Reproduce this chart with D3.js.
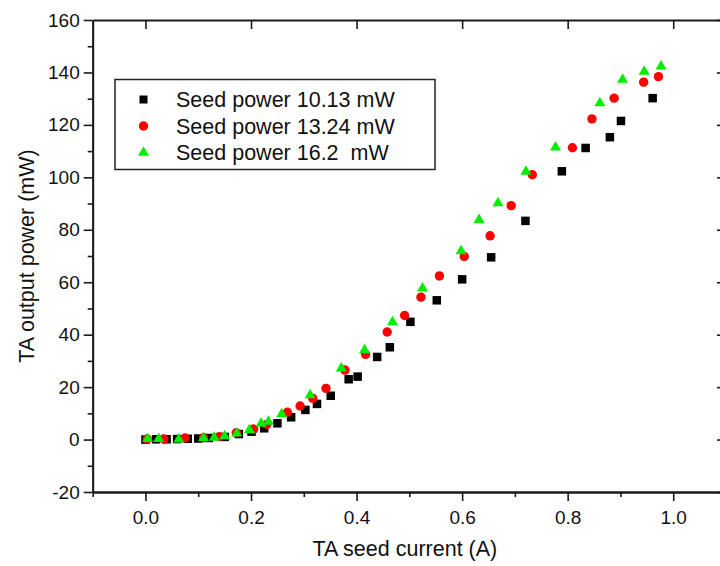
<!DOCTYPE html>
<html>
<head>
<meta charset="utf-8">
<script src="https://cdn.jsdelivr.net/npm/d3@7"></script>
<style>
  html, body { margin: 0; padding: 0; background: #fff; }
  svg { display: block; }
  text { font-family: "Liberation Sans", Arial, sans-serif; fill: #111; }
</style>
</head>
<body>
<script>
// ---- data ----
const seriesNames = ["Seed power 10.13 mW", "Seed power 13.24 mW", "Seed power 16.2  mW"];

const current1 = [0.000, 0.020, 0.040, 0.060, 0.080, 0.100, 0.120, 0.150, 0.177, 0.201, 0.225, 0.250, 0.276, 0.303, 0.325, 0.351, 0.385, 0.402, 0.439, 0.463, 0.502, 0.552, 0.600, 0.655, 0.720, 0.789, 0.834, 0.880, 0.901, 0.961];
const power1   = [0.0, 0.1, 0.1, 0.2, 0.3, 0.4, 0.6, 1.0, 2.1, 3.0, 4.3, 6.2, 8.5, 11.3, 13.6, 16.7, 23.0, 24.0, 31.5, 35.2, 44.9, 53.1, 61.1, 69.5, 83.4, 102.3, 111.2, 115.3, 121.5, 130.2];

const current2 = [0.003, 0.035, 0.075, 0.110, 0.140, 0.172, 0.205, 0.230, 0.269, 0.293, 0.317, 0.342, 0.378, 0.417, 0.458, 0.491, 0.522, 0.557, 0.604, 0.653, 0.693, 0.733, 0.809, 0.846, 0.888, 0.944, 0.972];
const power2   = [0.2, 0.2, 0.6, 0.7, 1.1, 2.6, 4.0, 5.8, 10.4, 12.8, 15.7, 19.5, 26.5, 32.5, 41.0, 47.3, 54.3, 62.4, 69.8, 77.7, 89.2, 101.0, 111.3, 122.3, 130.2, 136.3, 138.4];

const current3 = [0.004, 0.025, 0.063, 0.110, 0.130, 0.150, 0.173, 0.197, 0.219, 0.233, 0.258, 0.312, 0.371, 0.415, 0.468, 0.525, 0.598, 0.632, 0.668, 0.721, 0.777, 0.861, 0.904, 0.945, 0.977];
const power3   = [0.5, 0.5, 0.3, 0.8, 1.0, 1.6, 2.6, 3.9, 6.3, 7.1, 10.0, 17.2, 27.4, 34.4, 45.0, 57.9, 72.1, 84.0, 90.4, 102.4, 111.7, 128.6, 137.5, 140.6, 142.6];

const xTicks = [0.0, 0.2, 0.4, 0.6, 0.8, 1.0];
const xMinorTicks = [-0.1, 0.1, 0.3, 0.5, 0.7, 0.9, 1.1];
const yTicks = [-20, 0, 20, 40, 60, 80, 100, 120, 140, 160];
const yMinorTicks = [-10, 10, 30, 50, 70, 90, 110, 130, 150];

// ---- layout ----
const W = 720, H = 566;
const pL = 92.7, pR = 726, pT = 20, pB = 492;

const svg = d3.select("body").append("svg").attr("width", W).attr("height", H);

const x = d3.scaleLinear().domain([-0.1, 1.1]).range([pL, pR]);
const y = d3.scaleLinear().domain([-20, 160]).range([pB, pT]);

const axisColor = "#1a1a1a";
function styleAxis(g) {
  g.selectAll("path.domain").attr("stroke", axisColor).attr("stroke-width", 1.8);
  g.selectAll(".tick line").attr("stroke", axisColor).attr("stroke-width", 1.6);
  g.selectAll(".tick text").attr("font-family", "Liberation Sans, Arial, sans-serif").attr("font-size", 19).attr("fill", "#111");
}

// bottom axis
svg.append("g").attr("transform", `translate(0,${pB})`)
  .call(d3.axisBottom(x).tickValues(xMinorTicks).tickSize(5).tickFormat("").tickSizeOuter(0))
  .call(styleAxis);
svg.append("g").attr("transform", `translate(0,${pB})`)
  .call(d3.axisBottom(x).tickValues(xTicks).tickSize(9).tickPadding(10).tickFormat(d => d.toFixed(1)).tickSizeOuter(0))
  .call(styleAxis);

// top axis (inward ticks)
svg.append("g").attr("transform", `translate(0,${pT})`)
  .call(d3.axisTop(x).tickValues(xTicks).tickSize(-9).tickFormat("").tickSizeOuter(0))
  .call(styleAxis);

// left axis
svg.append("g").attr("transform", `translate(${pL},0)`)
  .call(d3.axisLeft(y).tickValues(yMinorTicks).tickSize(5).tickFormat("").tickSizeOuter(0))
  .call(styleAxis);
svg.append("g").attr("transform", `translate(${pL},0)`)
  .call(d3.axisLeft(y).tickValues(yTicks).tickSize(9).tickPadding(4).tickFormat(d => String(d)).tickSizeOuter(0))
  .call(styleAxis);

// right axis (inward ticks)
svg.append("g").attr("transform", `translate(${pR},0)`)
  .call(d3.axisRight(y).tickValues(yTicks).tickSize(-9).tickFormat("").tickSizeOuter(0))
  .call(styleAxis);

// axis titles
svg.append("text").attr("x", (pL + 707) / 2 + 5).attr("y", 556)
  .attr("text-anchor", "middle").attr("font-size", 21.5).text("TA seed current (A)");
svg.append("text").attr("transform", `translate(34,${(pT + pB) / 2}) rotate(-90)`)
  .attr("text-anchor", "middle").attr("font-size", 21.5).text("TA output power (mW)");

// ---- markers ----
const sq = 8.5, circR = 4.7, triW = 11, triH = 9.5;
const triPath = `M0,${-triH * 0.6}L${triW / 2},${triH * 0.4}L${-triW / 2},${triH * 0.4}Z`;

const d1 = current1.map((c, i) => [c, power1[i]]);
const d2 = current2.map((c, i) => [c, power2[i]]);
const d3s = current3.map((c, i) => [c, power3[i]]);

svg.append("g").selectAll("rect").data(d1).join("rect")
  .attr("x", d => x(d[0]) - sq / 2).attr("y", d => y(d[1]) - sq / 2)
  .attr("width", sq).attr("height", sq).attr("fill", "#000");

svg.append("g").selectAll("circle").data(d2).join("circle")
  .attr("cx", d => x(d[0])).attr("cy", d => y(d[1])).attr("r", circR).attr("fill", "#ff0000");

svg.append("g").selectAll("path").data(d3s).join("path")
  .attr("transform", d => `translate(${x(d[0])},${y(d[1])})`)
  .attr("d", triPath).attr("fill", "#00ee00");

// ---- legend ----
const lg = svg.append("g");
lg.append("rect").attr("x", 115).attr("y", 79.5).attr("width", 320).attr("height", 90)
  .attr("fill", "#fff").attr("stroke", "#222").attr("stroke-width", 1.5);
const rowsY = [99.5, 126, 152];
const mx = 143.5;
lg.append("rect").attr("x", mx - 4).attr("y", rowsY[0] - 4).attr("width", 8).attr("height", 8).attr("fill", "#000");
lg.append("circle").attr("cx", mx).attr("cy", rowsY[1]).attr("r", 4.7).attr("fill", "#ff0000");
lg.append("path").attr("transform", `translate(${mx},${rowsY[2]})`).attr("d", triPath).attr("fill", "#00ee00");
seriesNames.forEach((s, i) => {
  lg.append("text").attr("x", 176).attr("y", rowsY[i]).attr("dy", "0.36em")
    .attr("font-size", 21.5).attr("xml:space", "preserve").style("white-space", "pre").text(s);
});
</script>
</body>
</html>
